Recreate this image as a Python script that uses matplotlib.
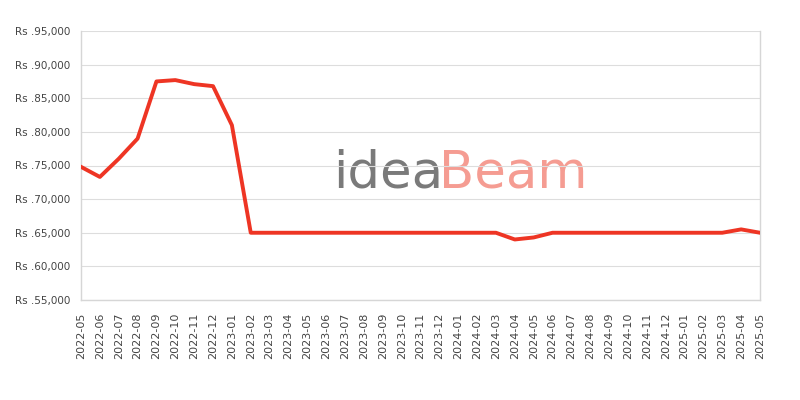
import matplotlib.pyplot as plt

months = ['2022-05', '2022-06', '2022-07', '2022-08', '2022-09', '2022-10', '2022-11',
          '2022-12', '2023-01', '2023-02', '2023-03', '2023-04', '2023-05', '2023-06',
          '2023-07', '2023-08', '2023-09', '2023-10', '2023-11', '2023-12', '2024-01',
          '2024-02', '2024-03', '2024-04', '2024-05', '2024-06', '2024-07', '2024-08',
          '2024-09', '2024-10', '2024-11', '2024-12', '2025-01', '2025-02', '2025-03',
          '2025-04', '2025-05']
prices = [74800, 73300, 76000, 79000, 87500, 87700, 87100, 86800, 81000, 65000,
          65000, 65000, 65000, 65000, 65000, 65000, 65000, 65000, 65000, 65000,
          65000, 65000, 65000, 64000, 64300, 65000, 65000, 65000, 65000, 65000,
          65000, 65000, 65000, 65000, 65000, 65500, 65000]
y_ticks = [55000, 60000, 65000, 70000, 75000, 80000, 85000, 90000, 95000]

fig = plt.figure(figsize=(8, 4), dpi=100)
ax = fig.add_axes([0.10125, 0.25, 0.84875, 0.6725])

# watermark
ax.text(0.371, 0.47, 'idea', transform=ax.transAxes, fontsize=37, color='#7a7a7a',
        ha='left', va='center', zorder=1)
ax.text(0.527, 0.47, 'Beam', transform=ax.transAxes, fontsize=37, color='#f59c92',
        ha='left', va='center', zorder=1)

x = list(range(len(months)))
ax.plot(x, prices, color='#ee3524', linewidth=2.8, solid_joinstyle='round', zorder=3)

ax.set_xlim(0, len(months) - 1)
ax.set_ylim(55000, 95000)
ax.set_xticks(x)
ax.set_xticklabels(months, rotation=90)
ax.set_yticks(y_ticks)
ax.set_yticklabels(['Rs .{:,}'.format(v) for v in y_ticks])
ax.tick_params(length=0, labelsize=8, labelcolor='#444444')
ax.tick_params(axis='x', pad=9)
ax.tick_params(axis='y', pad=8, labelsize=7.5)
ax.grid(axis='y', color='#dddddd', linewidth=0.8, zorder=0)
for s in ax.spines.values():
    s.set_color('#d6d6d6')
    s.set_linewidth(1)
ax.spines['top'].set_visible(False)

fig.savefig('out.png', dpi=100)
